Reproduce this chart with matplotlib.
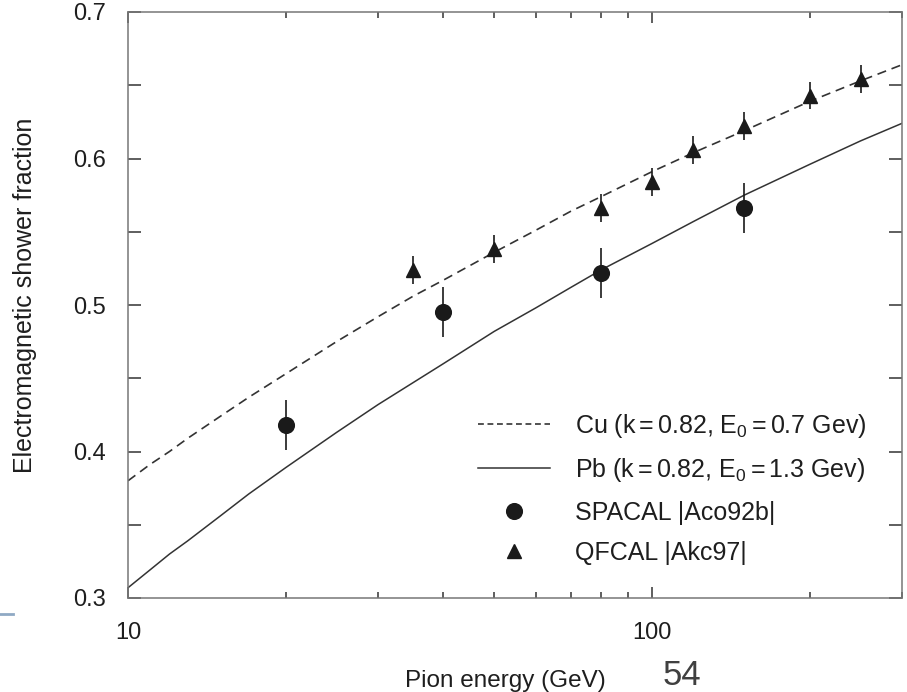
import matplotlib
matplotlib.use("Agg")
import matplotlib.pyplot as plt
from matplotlib.lines import Line2D
from matplotlib.ticker import FixedLocator, NullFormatter, LogLocator

plt.rcParams['font.family'] = ['Liberation Sans', 'DejaVu Sans']
plt.rcParams['mathtext.fontset'] = 'custom'
plt.rcParams['mathtext.rm'] = 'Liberation Sans'

# --- Daten ---
# Kurven (Cu gestrichelt, Pb durchgezogen)
curve_e = [10, 11, 12, 13, 15, 17, 20, 25, 30, 35, 40, 50, 60, 70, 80, 100, 120, 150, 200, 250, 300]
cu_frac = [0.380, 0.391, 0.400, 0.409, 0.424, 0.437, 0.453, 0.475, 0.492, 0.506, 0.517,
           0.536, 0.551, 0.564, 0.574, 0.591, 0.604, 0.619, 0.639, 0.653, 0.664]
pb_frac = [0.307, 0.319, 0.330, 0.339, 0.356, 0.371, 0.389, 0.413, 0.432, 0.447, 0.460,
           0.482, 0.498, 0.512, 0.524, 0.542, 0.557, 0.575, 0.596, 0.612, 0.624]

# SPACAL (Kreise)
spacal_e = [20, 40, 80, 150]
spacal_f = [0.418, 0.495, 0.522, 0.566]
spacal_err = [0.017, 0.017, 0.017, 0.017]

# QFCAL (Dreiecke)
qfcal_e = [35, 50, 80, 100, 120, 150, 200, 250]
qfcal_f = [0.524, 0.538, 0.566, 0.584, 0.606, 0.622, 0.643, 0.654]
qfcal_err = [0.0095, 0.0095, 0.0095, 0.0095, 0.0095, 0.0095, 0.0095, 0.0095]

label_cu = "Cu (k$\\,$=$\\,$0.82, E$_\\mathregular{0}$$\\,$=$\\,$0.7 Gev)"
label_pb = "Pb (k$\\,$=$\\,$0.82, E$_\\mathregular{0}$$\\,$=$\\,$1.3 Gev)"
label_spacal = "SPACAL |Aco92b|"
label_qfcal = "QFCAL |Akc97|"

INK = "#1a1a1a"
TXT = "#1e1e1e"

fig = plt.figure(figsize=(9.07, 6.92), dpi=100)
ax = fig.add_axes([128 / 907, 94 / 692, 774 / 907, 586 / 692])

ax.plot(curve_e, cu_frac, color="#333333", lw=1.2, linestyle=(0, (5.5, 3.5)))
ax.plot(curve_e, pb_frac, color="#333333", lw=1.1)

ax.errorbar(spacal_e, spacal_f, yerr=spacal_err, fmt="o", color=INK,
            markersize=11.3, elinewidth=1.2, capsize=0)
ax.errorbar(qfcal_e, qfcal_f, yerr=qfcal_err, fmt="^", color=INK,
            markersize=10.3, elinewidth=1.2, capsize=0)

ax.set_xscale("log")
ax.set_xlim(10, 300)
ax.set_ylim(0.3, 0.7)

# Achsen / Ticks
for sp in ax.spines.values():
    sp.set_color("#777777")
    sp.set_linewidth(1.1)

ax.yaxis.set_major_locator(FixedLocator([0.3, 0.35, 0.4, 0.45, 0.5, 0.55, 0.6, 0.65, 0.7]))
ax.set_yticklabels(["0.3", "", "0.4", "", "0.5", "", "0.6", "", "0.7"])
ax.xaxis.set_major_locator(FixedLocator([10, 100]))
ax.set_xticklabels(["10", "100"])
ax.xaxis.set_minor_locator(LogLocator(base=10, subs=range(2, 10)))
ax.xaxis.set_minor_formatter(NullFormatter())

ax.tick_params(axis="both", which="both", direction="in", top=True, right=True,
               color="#333333", labelcolor=TXT, labelsize=17)
ax.tick_params(axis="y", which="major", length=9.4, width=1.1, pad=16)
ax.tick_params(axis="x", which="major", length=8, width=1.1, pad=17)
ax.tick_params(axis="x", which="minor", length=4.5, width=1.1)

ax.set_ylabel("Electromagnetic shower fraction", fontsize=18, color=TXT)
ax.yaxis.set_label_coords(-0.1175, 0.517)
fig.text(505 / 907, 5 / 692, "Pion energy (GeV)", fontsize=17.5, color=TXT,
         ha="center", va="baseline")

# Legende
handles = [
    Line2D([], [], color="#333333", lw=1.2, linestyle=(0, (3.5, 2.2))),
    Line2D([], [], color="#333333", lw=1.1),
    Line2D([], [], color=INK, marker="o", linestyle="none", markersize=11.3),
    Line2D([], [], color=INK, marker="^", linestyle="none", markersize=9.5),
]
ax.legend(handles, [label_cu, label_pb, label_spacal, label_qfcal],
          loc="upper left", bbox_to_anchor=(0.452, 0.318), frameon=False,
          fontsize=18, handlelength=2.9, handletextpad=1.0, labelspacing=0.66,
          borderpad=0, borderaxespad=0, labelcolor=TXT)

# Folien-Reste: Seitenzahl und kleine Linie links
fig.text(663 / 907, 7 / 692, "54", fontsize=25, color="#404040", ha="left", va="baseline")
fig.add_artist(Line2D([0, 13 / 907], [1 - 614 / 692, 1 - 614 / 692],
                      color="#8fa9c4", lw=2, transform=fig.transFigure))

fig.savefig("out.png", dpi=100)
